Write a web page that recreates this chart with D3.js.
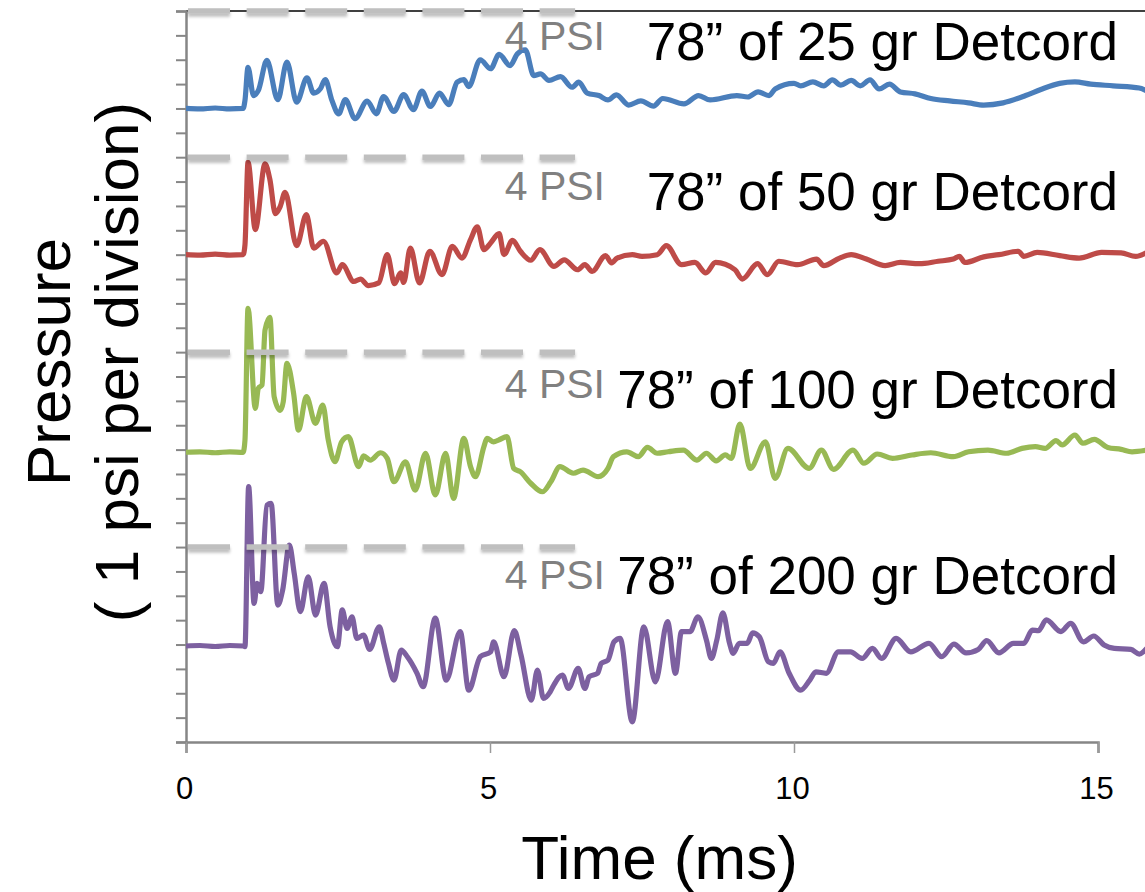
<!DOCTYPE html>
<html>
<head>
<meta charset="utf-8">
<script src="https://cdn.jsdelivr.net/npm/d3@7/dist/d3.min.js"></script>
<style>
  html, body { margin: 0; padding: 0; background: #fff; }
  svg { display: block; }
  text { font-family: "Liberation Sans", Arial, sans-serif; }
</style>
</head>
<body>
<svg id="chart" width="1145" height="892"></svg>
<script>
// ---------------- DATA ----------------
const seriesLabels = ["78\u201D of 25 gr Detcord", "78\u201D of 50 gr Detcord", "78\u201D of 100 gr Detcord", "78\u201D of 200 gr Detcord"];
const seriesColors = ["#4A7EBB", "#BE4B48", "#98B954", "#7D60A0"];
const seriesOffsets = [26, 20, 12, 4];          // psi baseline of each trace
const refLevel = 4;                              // "4 PSI" reference above each baseline
const refLabel = "4 PSI";
const refEndTime = 6.4;                          // ms, end of the dashed reference line
const xTicks = [0, 5, 10, 15];
const yTicks = d3.range(0, 31, 1);
const xTitle = "Time (ms)";
const yTitle = ["Pressure", "( 1 psi per division)"];

// [time ms, pressure psi relative to baseline]
const trace25 = [[0,0],[0.23,-0.02],[0.48,0.02],[0.72,-0.02],[0.94,0],[0.97,0.33],[1.02,1.69],[1.11,0.53],[1.19,0.74],[1.33,1.97],[1.51,0.36],[1.66,1.90],[1.82,0.26],[1.99,1.26],[2.10,0.63],[2.21,0.81],[2.29,1.18],[2.40,0.33],[2.51,-0.22],[2.62,0.36],[2.78,-0.42],[2.98,0.30],[3.13,-0.22],[3.25,0.49],[3.42,-0.12],[3.58,0.57],[3.74,-0.05],[3.88,0.71],[4.02,0.08],[4.17,0.63],[4.32,0.16],[4.46,1.08],[4.57,1.18],[4.65,0.90],[4.84,2.00],[5.01,1.63],[5.15,2.22],[5.33,1.76],[5.45,2.24],[5.58,2.41],[5.72,1.35],[5.83,1.42],[5.97,1.15],[6.16,1.31],[6.35,0.87],[6.46,1.08],[6.60,0.63],[6.79,0.53],[6.94,0.35],[7.08,0.56],[7.28,0.14],[7.48,0.31],[7.69,0.10],[7.84,0.41],[8.19,0.19],[8.43,0.53],[8.62,0.35],[9.06,0.53],[9.24,0.47],[9.41,0.68],[9.59,0.53],[9.69,0.80],[10.0,1.03],[10.11,0.93],[10.31,1.09],[10.49,0.93],[10.63,1.17],[10.77,0.96],[10.94,1.15],[11.09,0.93],[11.25,1.17],[11.40,0.80],[11.57,1.00],[11.75,0.68],[11.99,0.60],[12.25,0.41],[12.56,0.31],[12.87,0.23],[13.12,0.14],[13.44,0.23],[13.81,0.53],[14.06,0.78],[14.37,1.03],[14.62,1.09],[14.88,1.00],[15.25,0.93],[15.68,0.84],[15.80,0.72]];

const trace50 = [[0,0],[0.23,-0.02],[0.48,0.02],[0.72,-0.02],[0.94,0],[0.97,0.41],[1.02,3.79],[1.14,1.03],[1.30,3.73],[1.38,3.08],[1.47,1.68],[1.55,1.98],[1.63,2.56],[1.82,0.37],[1.98,1.64],[2.10,0.27],[2.26,0.55],[2.48,-0.75],[2.57,-0.41],[2.76,-1.10],[2.87,-1.00],[3.00,-1.27],[3.17,-1.16],[3.31,0],[3.43,-1.19],[3.53,-0.75],[3.58,-1.14],[3.69,0.27],[3.84,-1.16],[4.01,0.14],[4.21,-0.82],[4.38,0.34],[4.54,-0.14],[4.68,0.62],[4.79,1.14],[4.90,0.21],[5.01,0.48],[5.15,0.86],[5.23,0],[5.37,0.59],[5.50,0.14],[5.67,-0.23],[5.82,0.21],[6.05,-0.48],[6.22,-0.21],[6.44,-0.62],[6.56,-0.41],[6.68,-0.69],[6.90,-0.04],[7.00,-0.34],[7.09,-0.14],[7.34,0],[7.50,-0.07],[7.75,0],[7.90,0.37],[8.15,-0.41],[8.37,-0.32],[8.55,-0.75],[8.71,-0.32],[9.03,-0.62],[9.15,-1.00],[9.40,-0.37],[9.56,-0.82],[9.75,-0.27],[10.06,-0.41],[10.37,-0.18],[10.49,-0.45],[10.75,-0.14],[10.94,0],[11.19,-0.18],[11.50,-0.45],[11.75,-0.32],[12.06,-0.37],[12.37,-0.27],[12.62,-0.18],[12.72,-0.07],[12.81,-0.32],[13.12,-0.09],[13.37,0],[13.69,0.14],[13.78,-0.07],[14.00,0.09],[14.37,-0.04],[14.69,-0.14],[15.06,0.09],[15.38,0.07],[15.62,-0.07],[15.80,0.09]];

const trace100 = [[0,-0.11],[0.23,-0.09],[0.48,-0.13],[0.72,-0.09],[0.94,-0.11],[0.97,0.39],[1.02,5.80],[1.14,1.69],[1.19,2.52],[1.25,2.65],[1.30,4.91],[1.38,5.43],[1.45,2.17],[1.55,1.61],[1.60,1.97],[1.66,3.54],[1.77,2.31],[1.85,0.80],[1.98,2.17],[2.13,1.08],[2.25,1.83],[2.34,0.39],[2.45,-0.49],[2.56,0.32],[2.67,0.53],[2.84,-0.70],[2.92,-0.26],[3.03,-0.43],[3.20,-0.13],[3.31,-0.36],[3.42,-1.32],[3.61,-0.50],[3.77,-1.66],[3.94,-0.15],[4.10,-1.86],[4.27,-0.15],[4.40,-2.00],[4.57,0.46],[4.68,-0.70],[4.76,-1.11],[4.90,0.12],[4.95,0.46],[5.06,0.32],[5.14,0.39],[5.28,0.53],[5.39,-0.77],[5.50,-0.91],[5.67,-1.38],[5.86,-1.73],[6.00,-1.32],[6.15,-0.70],[6.37,-0.97],[6.53,-0.84],[6.78,-1.11],[6.94,-0.77],[7.03,-0.29],[7.25,-0.09],[7.44,-0.29],[7.59,0.09],[7.75,-0.15],[7.93,-0.09],[8.18,-0.02],[8.40,-0.43],[8.56,-0.15],[8.72,-0.46],[8.87,-0.22],[8.97,-0.36],[9.11,1.05],[9.28,-0.77],[9.53,0.32],[9.69,-1.18],[9.90,0.05],[10.25,-0.77],[10.45,-0.02],[10.65,-0.81],[10.97,-0.02],[11.15,-0.56],[11.37,-0.18],[11.62,-0.36],[11.94,-0.22],[12.25,-0.13],[12.62,-0.29],[12.87,-0.09],[13.19,-0.02],[13.50,-0.15],[13.75,0.05],[13.97,0.12],[14.13,0.05],[14.31,0.37],[14.41,0.19],[14.62,0.60],[14.75,0.26],[14.94,0.42],[15.16,0.09],[15.38,0.01],[15.56,-0.09],[15.80,-0.02]];

const trace200 = [[0,-0.06],[0.23,-0.04],[0.48,-0.08],[0.72,-0.04],[0.94,-0.06],[0.97,-0.09],[1.03,6.48],[1.12,1.69],[1.17,2.51],[1.23,2.17],[1.33,5.72],[1.40,5.79],[1.51,1.62],[1.59,2.24],[1.70,4.08],[1.78,2.92],[1.88,1.35],[2.01,2.78],[2.13,1.21],[2.27,2.51],[2.37,0.73],[2.49,-0.09],[2.57,1.42],[2.65,0.66],[2.73,1.14],[2.81,0.25],[2.92,0.39],[3.02,-0.20],[3.18,0.73],[3.25,0.07],[3.33,-0.77],[3.42,-1.46],[3.54,-0.23],[3.64,-0.50],[3.80,-1.18],[3.90,-1.73],[4.10,1.08],[4.28,-1.46],[4.51,0.53],[4.65,-1.87],[4.84,-0.50],[5.01,-0.30],[5.06,0.11],[5.23,-1.32],[5.40,0.57],[5.51,-0.43],[5.68,-2.28],[5.78,-1.05],[5.88,-2.21],[5.99,-1.94],[6.05,-1.66],[6.19,-1.25],[6.29,-1.80],[6.45,-0.98],[6.56,-1.80],[6.63,-1.32],[6.77,-1.18],[6.83,-0.77],[6.94,-0.64],[7.04,0.11],[7.14,0.25],[7.34,-3.17],[7.53,0.73],[7.72,-1.53],[7.92,0.94],[8.05,-1.18],[8.15,0.53],[8.29,0.53],[8.42,1.14],[8.56,0.18],[8.64,-0.57],[8.73,0.18],[8.83,1.30],[8.94,0.05],[9.00,-0.36],[9.10,0.05],[9.23,0.05],[9.32,0.48],[9.43,0.32],[9.58,-0.71],[9.66,-0.77],[9.77,-0.30],[9.92,-1.18],[10.11,-1.87],[10.26,-1.46],[10.36,-1.12],[10.53,-1.18],[10.73,-0.30],[10.93,-0.30],[11.12,-0.57],[11.29,-0.16],[11.44,-0.57],[11.68,0.25],[11.92,-0.30],[12.22,0.05],[12.43,-0.50],[12.63,0.02],[12.83,-0.34],[13.03,-0.20],[13.17,0.16],[13.37,-0.34],[13.61,0.05],[13.78,0.05],[13.92,0.59],[14.02,0.57],[14.15,1.01],[14.39,0.53],[14.55,0.87],[14.76,0.11],[14.93,0.35],[15.10,-0.02],[15.27,-0.16],[15.54,-0.20],[15.68,-0.39],[15.80,-0.16]];

const traces = [trace25, trace50, trace100, trace200];
const labelBaselines = [60, 210, 408, 594];     // px, title text baselines
const refLabelBaselines = [50, 200, 398, 589];  // px, "4 PSI" baselines

// ---------------- DRAW ----------------
const svg = d3.select("#chart");
const W = 1145, H = 892;
svg.append("rect").attr("width", W).attr("height", H).attr("fill", "#fff");

const x = d3.scaleLinear().domain([0, 15]).range([186, 1098]);
const y = d3.scaleLinear().domain([0, 30]).range([742, 11]);

const defs = svg.append("defs");
const f = defs.append("filter").attr("id", "shadow")
  .attr("filterUnits", "userSpaceOnUse")
  .attr("x", 0).attr("y", 0).attr("width", W).attr("height", H);
f.append("feDropShadow").attr("dx", 0).attr("dy", 3).attr("stdDeviation", 1.6)
  .attr("flood-color", "#000").attr("flood-opacity", 0.25);
defs.append("clipPath").attr("id", "plotclip").append("rect")
  .attr("x", 186).attr("y", 0).attr("width", W - 186).attr("height", 745);

// top border line
svg.append("line").attr("x1", 186).attr("x2", W).attr("y1", y(30)).attr("y2", y(30))
  .attr("stroke", "#000").attr("stroke-width", 1.6);

// y axis
const yAxis = d3.axisLeft(y).tickValues(yTicks).tickSize(10).tickFormat("");
const gy = svg.append("g").attr("transform", "translate(186,0)").call(yAxis);
gy.select(".domain").attr("stroke", "#868686").attr("stroke-width", 2.5);
gy.selectAll(".tick line").attr("stroke", "#868686").attr("stroke-width", 2);

// x axis
const xAxis = d3.axisBottom(x).tickValues(xTicks).tickSize(11).tickFormat(d3.format("d"));
const gx = svg.append("g").attr("transform", "translate(0,742)").call(xAxis);
gx.select(".domain").attr("stroke", "#868686").attr("stroke-width", 2.5);
gx.selectAll(".tick line").attr("stroke", "#9a9a9a").attr("stroke-width", 1.5);
gx.selectAll(".tick text").attr("fill", "#000").attr("font-size", 31)
  .attr("font-family", "'Liberation Sans', Arial, sans-serif").attr("y", 0).attr("dy", 0)
  .attr("transform", "translate(-2,57)");

// traces
const line = d3.line().x(d => x(d[0])).y(d => y(d[1])).curve(d3.curveMonotoneX);
const plot = svg.append("g").attr("clip-path", "url(#plotclip)");
traces.forEach((tr, i) => {
  const off = seriesOffsets[i];
  plot.append("path")
    .datum(tr.map(d => [d[0], d[1] + off]))
    .attr("d", line)
    .attr("fill", "none")
    .attr("stroke", seriesColors[i])
    .attr("stroke-width", 5.2)
    .attr("stroke-linejoin", "round")
    .attr("stroke-linecap", "round");
});

// dashed 4 psi reference lines
seriesOffsets.forEach((off, i) => {
  svg.append("line")
    .attr("x1", x(0) + 2).attr("x2", x(refEndTime))
    .attr("y1", y(off + refLevel)).attr("y2", y(off + refLevel))
    .attr("stroke", "#BFBFBF").attr("stroke-width", 5.5)
    .attr("stroke-dasharray", "42,16.6")
    .attr("filter", "url(#shadow)");
});

// 4 PSI labels
refLabelBaselines.forEach((b, i) => {
  svg.append("text").attr("x", 605).attr("y", b).attr("text-anchor", "end")
    .attr("font-size", 41).attr("fill", "#808080").text(refLabel);
});

// series titles
seriesLabels.forEach((s, i) => {
  svg.append("text").attr("x", 1118).attr("y", labelBaselines[i]).attr("text-anchor", "end")
    .attr("font-size", 53).attr("fill", "#000").text(s);
});

// axis titles
svg.append("text").attr("x", (x(0) + W) / 2 - 6).attr("y", 879).attr("text-anchor", "middle")
  .attr("font-size", 62).attr("fill", "#000").text(xTitle);

const yt = svg.append("text").attr("transform", "translate(0,362) rotate(-90)")
  .attr("text-anchor", "middle").attr("font-size", 62).attr("fill", "#000");
yt.append("tspan").attr("x", 0).attr("y", 70).text(yTitle[0]);
yt.append("tspan").attr("x", 0).attr("y", 138).text(yTitle[1]);
</script>
</body>
</html>
